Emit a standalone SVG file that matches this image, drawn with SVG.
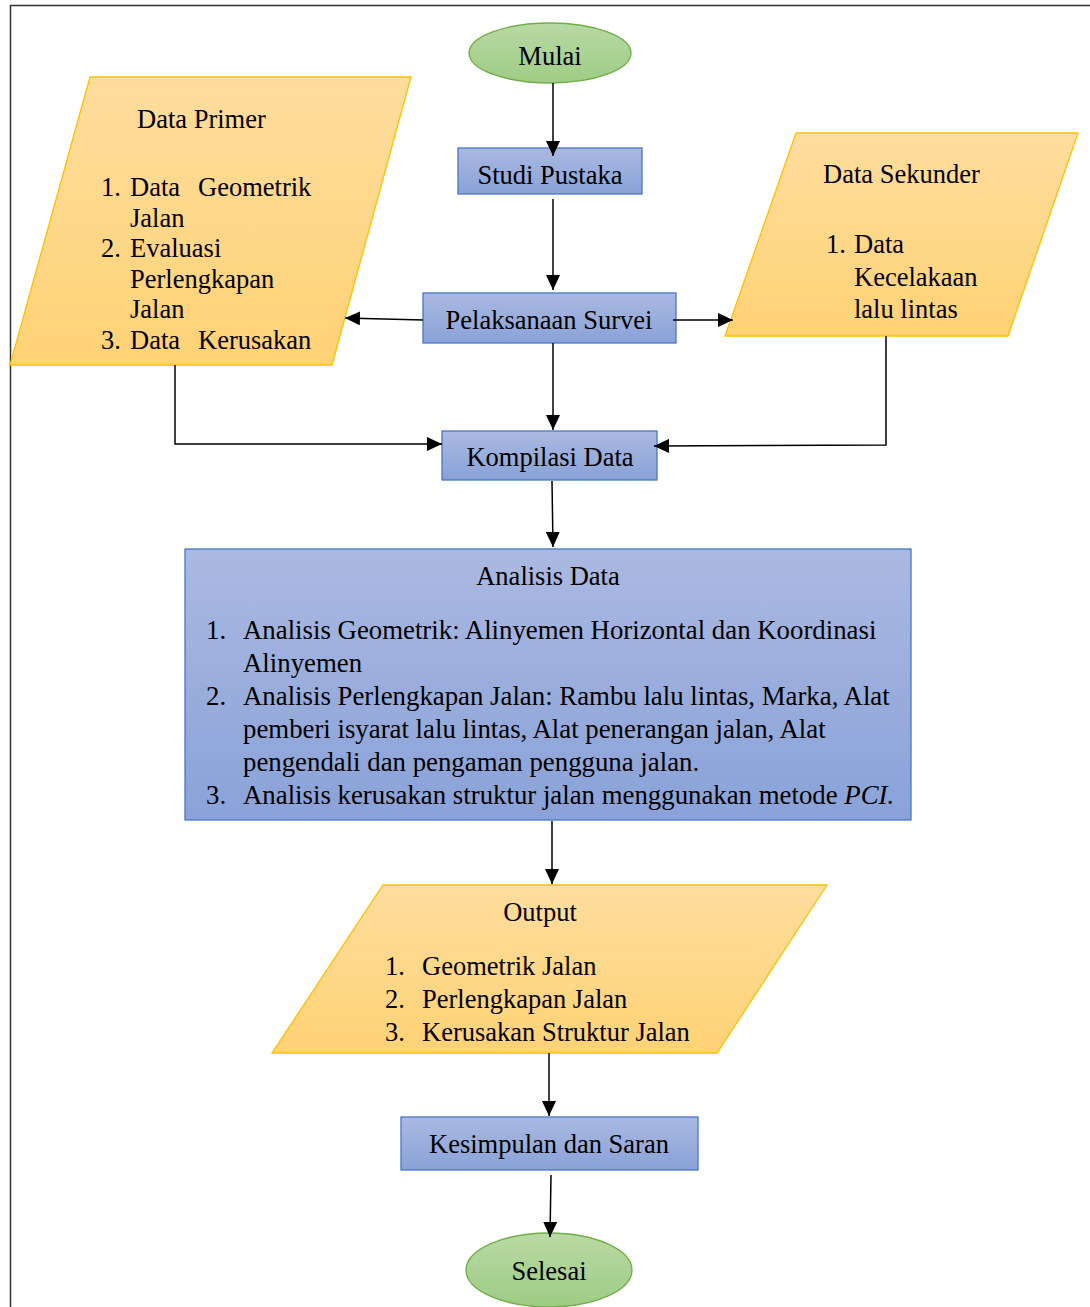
<svg xmlns="http://www.w3.org/2000/svg" width="1090" height="1307" viewBox="0 0 1090 1307">
<defs>
<linearGradient id="gBlue" x1="0" y1="0" x2="0" y2="1"><stop offset="0" stop-color="#aab9e1"/><stop offset="1" stop-color="#8aa2d8"/></linearGradient>
<linearGradient id="gOrange" x1="0" y1="0" x2="0" y2="1"><stop offset="0" stop-color="#ffdd9e"/><stop offset="1" stop-color="#ffd275"/></linearGradient>
<linearGradient id="gGreen" x1="0" y1="0" x2="0" y2="1"><stop offset="0" stop-color="#b8d9a5"/><stop offset="1" stop-color="#9fcc84"/></linearGradient>
<marker id="arr" markerUnits="userSpaceOnUse" markerWidth="16" markerHeight="14" refX="15" refY="7" orient="auto" viewBox="0 0 16 14"><path d="M0,0 L15,7 L0,14 z" fill="#000"/></marker>
</defs>
<style>
.t{font-family:"Liberation Serif","Times New Roman",serif;font-size:26.5px;fill:#000}
.a{font-size:26.8px}
.c{text-anchor:middle}
.box{fill:url(#gBlue);stroke:#4a75c6;stroke-width:1.3}
.para{fill:url(#gOrange);stroke:#ffc000;stroke-width:1.3}
.ell{fill:url(#gGreen);stroke:#70ad47;stroke-width:1.3}
.ln{fill:none;stroke:#000;stroke-width:1.5}
</style>
<g id="frame"><path d="M10.5,1307 L10.5,5.5 L1090,5.5" fill="none" stroke="#333" stroke-width="1.5"/></g>
<g id="mulai"><ellipse class="ell" cx="550" cy="53" rx="81" ry="30"/><text class="t c" x="550" y="65">Mulai</text></g>
<g id="studi"><rect class="box" x="458" y="148" width="184" height="46"/><text class="t c" x="550" y="184">Studi Pustaka</text></g>
<g id="pelaksanaan"><rect class="box" x="423" y="293" width="253" height="50"/><text class="t c" x="549" y="329">Pelaksanaan Survei</text></g>
<g id="kompilasi"><rect class="box" x="442" y="431" width="215" height="49"/><text class="t c" x="550" y="466">Kompilasi Data</text></g>
<g id="primer"><polygon class="para" points="90,77 411,77 332,365 10,365"/>
<text class="t" x="137" y="128">Data Primer</text>
<text class="t" x="101" y="196">1.</text><text class="t" x="130" y="196">Data</text><text class="t" x="198" y="196">Geometrik</text>
<text class="t" x="130" y="227">Jalan</text>
<text class="t" x="101" y="257">2.</text><text class="t" x="130" y="257">Evaluasi</text>
<text class="t" x="130" y="288">Perlengkapan</text>
<text class="t" x="130" y="318">Jalan</text>
<text class="t" x="101" y="349">3.</text><text class="t" x="130" y="349">Data</text><text class="t" x="198" y="349">Kerusakan</text>
</g>
<g id="sekunder"><polygon class="para" points="796,133 1078,133 1008,336 725,336"/>
<text class="t" x="823" y="183">Data Sekunder</text>
<text class="t" x="826" y="253">1.</text><text class="t" x="854" y="253">Data</text>
<text class="t" x="854" y="286">Kecelakaan</text>
<text class="t" x="854" y="318">lalu lintas</text>
</g>
<g id="analisis"><rect class="box" x="185" y="549" width="726" height="271"/>
<text class="t c" x="548" y="585">Analisis Data</text>
<text class="t a" x="206" y="639">1.</text><text class="t a" x="243" y="639">Analisis Geometrik: Alinyemen Horizontal dan Koordinasi</text>
<text class="t a" x="243" y="672">Alinyemen</text>
<text class="t a" x="206" y="705">2.</text><text class="t a" x="243" y="705">Analisis Perlengkapan Jalan: Rambu lalu lintas, Marka, Alat</text>
<text class="t a" x="243" y="738">pemberi isyarat lalu lintas, Alat penerangan jalan, Alat</text>
<text class="t a" x="243" y="771">pengendali dan pengaman pengguna jalan.</text>
<text class="t a" x="206" y="804">3.</text><text class="t a" x="243" y="804">Analisis kerusakan struktur jalan menggunakan metode <tspan font-style="italic">PCI.</tspan></text>
</g>
<g id="output"><polygon class="para" points="383,885 827,885 717,1053 272,1053"/>
<text class="t c" x="540" y="921">Output</text>
<text class="t" x="385" y="975">1.</text><text class="t" x="422" y="975">Geometrik Jalan</text>
<text class="t" x="385" y="1008">2.</text><text class="t" x="422" y="1008">Perlengkapan Jalan</text>
<text class="t" x="385" y="1041">3.</text><text class="t" x="422" y="1041">Kerusakan Struktur Jalan</text>
</g>
<g id="kesimpulan"><rect class="box" x="401" y="1117" width="297" height="53"/><text class="t c" x="549" y="1153">Kesimpulan dan Saran</text></g>
<g id="selesai"><ellipse class="ell" cx="549" cy="1270" rx="83" ry="37"/><text class="t c" x="549" y="1280">Selesai</text></g>
<g id="connectors">
<path class="ln" d="M553,83 L553,156" stroke-width="2.8" marker-end="url(#arr)"/>
<path class="ln" d="M553,199 L553,290" marker-end="url(#arr)"/>
<path class="ln" d="M423,320 L345,318" marker-end="url(#arr)"/>
<path class="ln" d="M673,320 L733,320" marker-end="url(#arr)"/>
<path class="ln" d="M553,343 L553,430" marker-end="url(#arr)"/>
<path class="ln" d="M175,365 L175,444 L442,444" marker-end="url(#arr)"/>
<path class="ln" d="M886,336 L886,445 L654,446" marker-end="url(#arr)"/>
<path class="ln" d="M552,481 L553,547" marker-end="url(#arr)"/>
<path class="ln" d="M552,821 L552,884" marker-end="url(#arr)"/>
<path class="ln" d="M549,1053 L549,1116" marker-end="url(#arr)"/>
<path class="ln" d="M551,1175 L550,1237" marker-end="url(#arr)"/>
</g>
</svg>
